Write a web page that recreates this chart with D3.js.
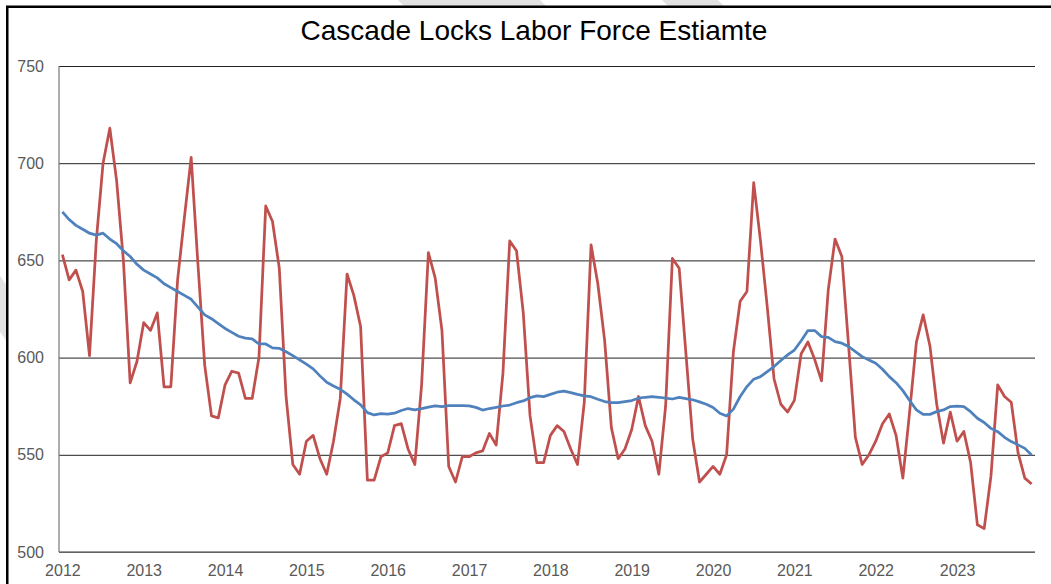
<!DOCTYPE html>
<html>

<head>
    <meta charset="utf-8">
    <script type="text/javascript" src="https://d3js.org/d3.v7.min.js"></script>
    <style>
        body { margin: 0; background: #fff; }
    </style>
</head>

<body>
    <script>

        // monthly estimates, Jan 2012 .. Dec 2023
        var laborForce = [
            653, 640, 645, 634, 601, 660, 700, 718, 691, 650, 587, 598,
            618, 614, 623, 585, 585, 640, 672, 703, 648, 596, 570, 569,
            586, 593, 592, 579, 579, 600, 678, 670, 646, 580, 545, 540,
            557, 560, 548, 540, 557, 579, 643, 632, 616, 537, 537, 549,
            551, 565, 566, 553, 545, 586, 654, 641, 614, 544, 536, 549,
            549, 551, 552, 561, 555, 592, 660, 655, 623, 570, 546, 546,
            560, 565, 562, 553, 545, 577, 658, 638, 609, 564, 548, 553,
            563, 580, 565, 557, 540, 575, 651, 646, 602, 558, 536, 540,
            544, 540, 550, 603, 629, 634, 690, 660, 626, 589, 576, 572,
            578, 602, 608, 599, 588, 635, 661, 652, 606, 559, 545, 550,
            557, 566, 571, 560, 538, 572, 608, 622, 606, 576, 556, 572,
            557, 562, 546, 514, 512, 539, 586, 580, 577, 551, 538, 535
        ]

        // smoothed trend
        var trend = [
            675, 671, 668, 666, 664, 663, 664, 661, 658.6, 655, 652, 648,
            645, 643, 641, 638, 636, 634, 632, 630, 626, 622, 620, 617.5,
            615, 613, 611, 610, 609.6, 607, 607, 605, 604.8, 603, 601, 598.8,
            596.6, 594.2, 590.6, 587.3, 585.4, 583.7, 581.2, 578.3, 575.7, 571.7, 570.5, 571.2,
            570.9, 571.4, 572.8, 573.8, 573.1, 573.8, 574.5, 575.2, 574.8, 575.3, 575.3, 575.3,
            575.2, 574.4, 573, 573.8, 574.4, 575.1, 575.6, 576.8, 577.7, 579.4, 580.3, 579.9,
            581.1, 582.2, 582.8, 582, 581.1, 580.3, 579.9, 578.6, 577.4, 576.8, 576.8, 577.4,
            577.9, 579.1, 579.6, 579.9, 579.6, 579.1, 578.7, 579.5, 578.9, 578.3, 577.2, 576,
            574.3, 571.4, 570, 573.5, 580, 585.1, 588.9, 590.2, 592.8, 595.4, 598.5, 601.4,
            603.9, 608.7, 613.9, 613.9, 610.8, 610.4, 608.2, 607.4, 605.7, 603.1, 600.5, 598.8,
            597.1, 594, 590.2, 587.1, 583, 577.9, 573.1, 570.8, 570.8, 572.2, 573.1, 574.8,
            575.1, 574.8, 572.2, 568.8, 566.6, 563.6, 561.9, 559, 556.8, 555.1, 553.3, 549.9
        ]

        var years = ['2012', '2013', '2014', '2015', '2016', '2017', '2018', '2019', '2020', '2021', '2022', '2023']
        var yTicks = [500, 550, 600, 650, 700, 750]

        var w = 1051, h = 584
        var plotLeft = 59, plotRight = 1035, plotTop = 66, plotBottom = 552
        var font = "'Liberation Sans', Arial, sans-serif"

        var svg = d3.select('body').append('svg')
        svg.attr('width', w).attr('height', h)

        svg.append('rect').attr('width', w).attr('height', h).attr('fill', '#fff')

        // faint watermark slivers peeking out round the chart frame
        var marks = [
            [[398, 0], [540, 0], [548, 8], [406, 8]],
            [[662, 0], [718, 0], [726, 8], [670, 8]],
            [[0, 276], [10, 290], [10, 346], [0, 332]]
        ]
        svg.selectAll('.wm').data(marks).enter().append('polygon')
            .attr('points', d => d.map(p => p.join(',')).join(' '))
            .attr('fill', '#e2e2e2')

        // chart frame
        svg.append('rect')
            .attr('x', 7.25).attr('y', 6.75)
            .attr('width', 1060).attr('height', 620)
            .attr('fill', '#fff')
            .attr('stroke', '#000')
            .attr('stroke-width', 2.5)

        svg.append('text')
            .attr('x', 534)
            .attr('y', 40)
            .attr('text-anchor', 'middle')
            .attr('font-family', font)
            .attr('font-size', '28px')
            .attr('fill', '#000')
            .text('Cascade Locks Labor Force Estiamte')

        var xscale = d3.scaleLinear()
            .domain([-0.5, laborForce.length - 0.5])
            .range([plotLeft, plotRight])

        var yscale = d3.scaleLinear()
            .domain([500, 750])
            .range([plotBottom, plotTop])

        var yAxis = svg.append('g')
            .attr('transform', 'translate(' + plotLeft + ',0)')
            .call(d3.axisLeft(yscale).tickValues(yTicks).tickSize(-(plotRight - plotLeft)).tickPadding(15))
        yAxis.select('.domain').remove()
        yAxis.selectAll('line').attr('stroke', '#222').attr('stroke-width', 1)
        yAxis.selectAll('text')
            .attr('font-family', font).attr('font-size', '16px').attr('fill', '#595959')

        var xAxis = svg.append('g')
            .attr('transform', 'translate(0,' + plotBottom + ')')
            .call(d3.axisBottom(xscale)
                .tickValues(years.map((y, i) => i * 12))
                .tickFormat((d, i) => years[i])
                .tickSize(0).tickPadding(13))
        xAxis.select('.domain').remove()
        xAxis.selectAll('text')
            .attr('font-family', font).attr('font-size', '16px').attr('fill', '#595959')

        // axis lines
        svg.append('line')
            .attr('x1', plotLeft).attr('x2', plotLeft).attr('y1', plotTop).attr('y2', plotBottom)
            .attr('stroke', '#777').attr('stroke-width', 1.2)
        svg.append('line')
            .attr('x1', plotLeft).attr('x2', plotRight).attr('y1', plotBottom).attr('y2', plotBottom)
            .attr('stroke', '#777').attr('stroke-width', 1.5)

        var line = d3.line()
            .x((d, i) => xscale(i))
            .y(d => yscale(d))

        svg.append('path')
            .datum(laborForce)
            .attr('d', line)
            .attr('fill', 'none')
            .attr('stroke', '#C0504D')
            .attr('stroke-width', 2.75)
            .attr('stroke-linejoin', 'round')

        svg.append('path')
            .datum(trend)
            .attr('d', line)
            .attr('fill', 'none')
            .attr('stroke', '#4F81BD')
            .attr('stroke-width', 2.75)
            .attr('stroke-linejoin', 'round')

    </script>
</body>

</html>
